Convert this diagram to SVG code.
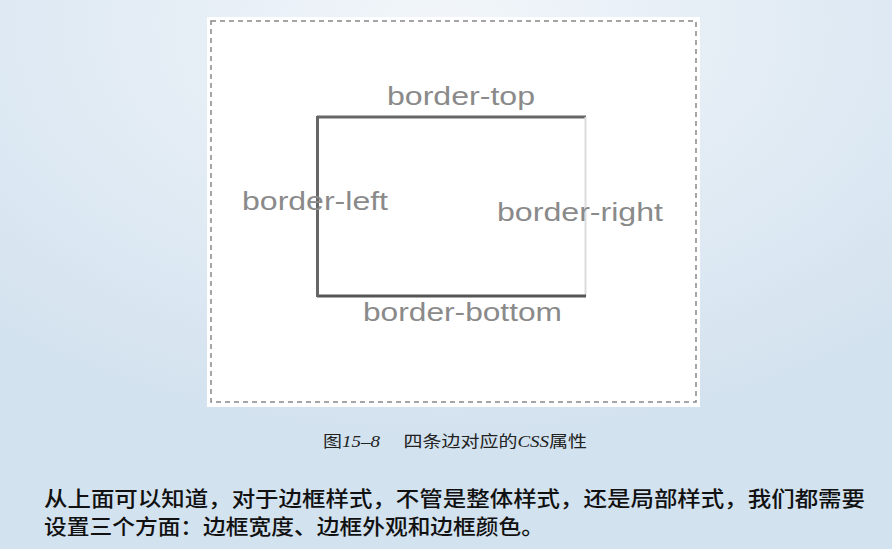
<svg xmlns="http://www.w3.org/2000/svg" width="892" height="549" viewBox="0 0 892 549">
<style>
.lbl{font-family:"Liberation Sans",Arial,sans-serif;font-size:26px;fill:#8a8a8a}
.cap{font-family:"Liberation Serif","Noto Sans CJK SC",serif;font-size:16px;fill:#222}
.body{font-family:"Noto Sans CJK SC",sans-serif;font-size:21px;fill:#111;font-weight:500}
</style>
<defs>
<radialGradient id="bg" cx="0.5" cy="0.05" r="0.75">
<stop offset="0" stop-color="#f2f6fa"/>
<stop offset="1" stop-color="#d3e2ef"/>
</radialGradient>
</defs>
<rect x="0" y="0" width="892" height="549" fill="url(#bg)"/>
<g id="panel">
<rect x="207" y="17" width="493" height="390" fill="#ffffff"/>
<rect x="211" y="21" width="485" height="381" fill="none" stroke="#888" stroke-width="1.5" stroke-dasharray="5,4"/>
</g>
<g id="box">
<line x1="317" y1="117" x2="586" y2="117" stroke="#666" stroke-width="3"/>
<line x1="585.5" y1="117" x2="585.5" y2="296" stroke="#dcdcdc" stroke-width="2"/>
<line x1="317" y1="296" x2="586" y2="296" stroke="#555" stroke-width="3"/>
<line x1="317.5" y1="116" x2="317.5" y2="297" stroke="#666" stroke-width="3"/>
</g>
<g id="labels">
<text class="lbl" x="387" y="105" textLength="148" lengthAdjust="spacingAndGlyphs">border-top</text>
<text class="lbl" x="242" y="210" textLength="146" lengthAdjust="spacingAndGlyphs">border-left</text>
<text class="lbl" x="497" y="221" textLength="166" lengthAdjust="spacingAndGlyphs">border-right</text>
<text class="lbl" x="363" y="321" textLength="199" lengthAdjust="spacingAndGlyphs">border-bottom</text>
</g>
<text class="cap" x="323" y="447" textLength="264" lengthAdjust="spacingAndGlyphs">图<tspan font-style="italic">15–8</tspan>　 四条边对应的<tspan font-style="italic">CSS</tspan>属性</text>
<text class="body" x="44" y="506" textLength="821" lengthAdjust="spacingAndGlyphs">从上面可以知道，对于边框样式，不管是整体样式，还是局部样式，我们都需要</text>
<text class="body" x="44" y="534" textLength="500" lengthAdjust="spacingAndGlyphs">设置三个方面：边框宽度、边框外观和边框颜色。</text>
</svg>
